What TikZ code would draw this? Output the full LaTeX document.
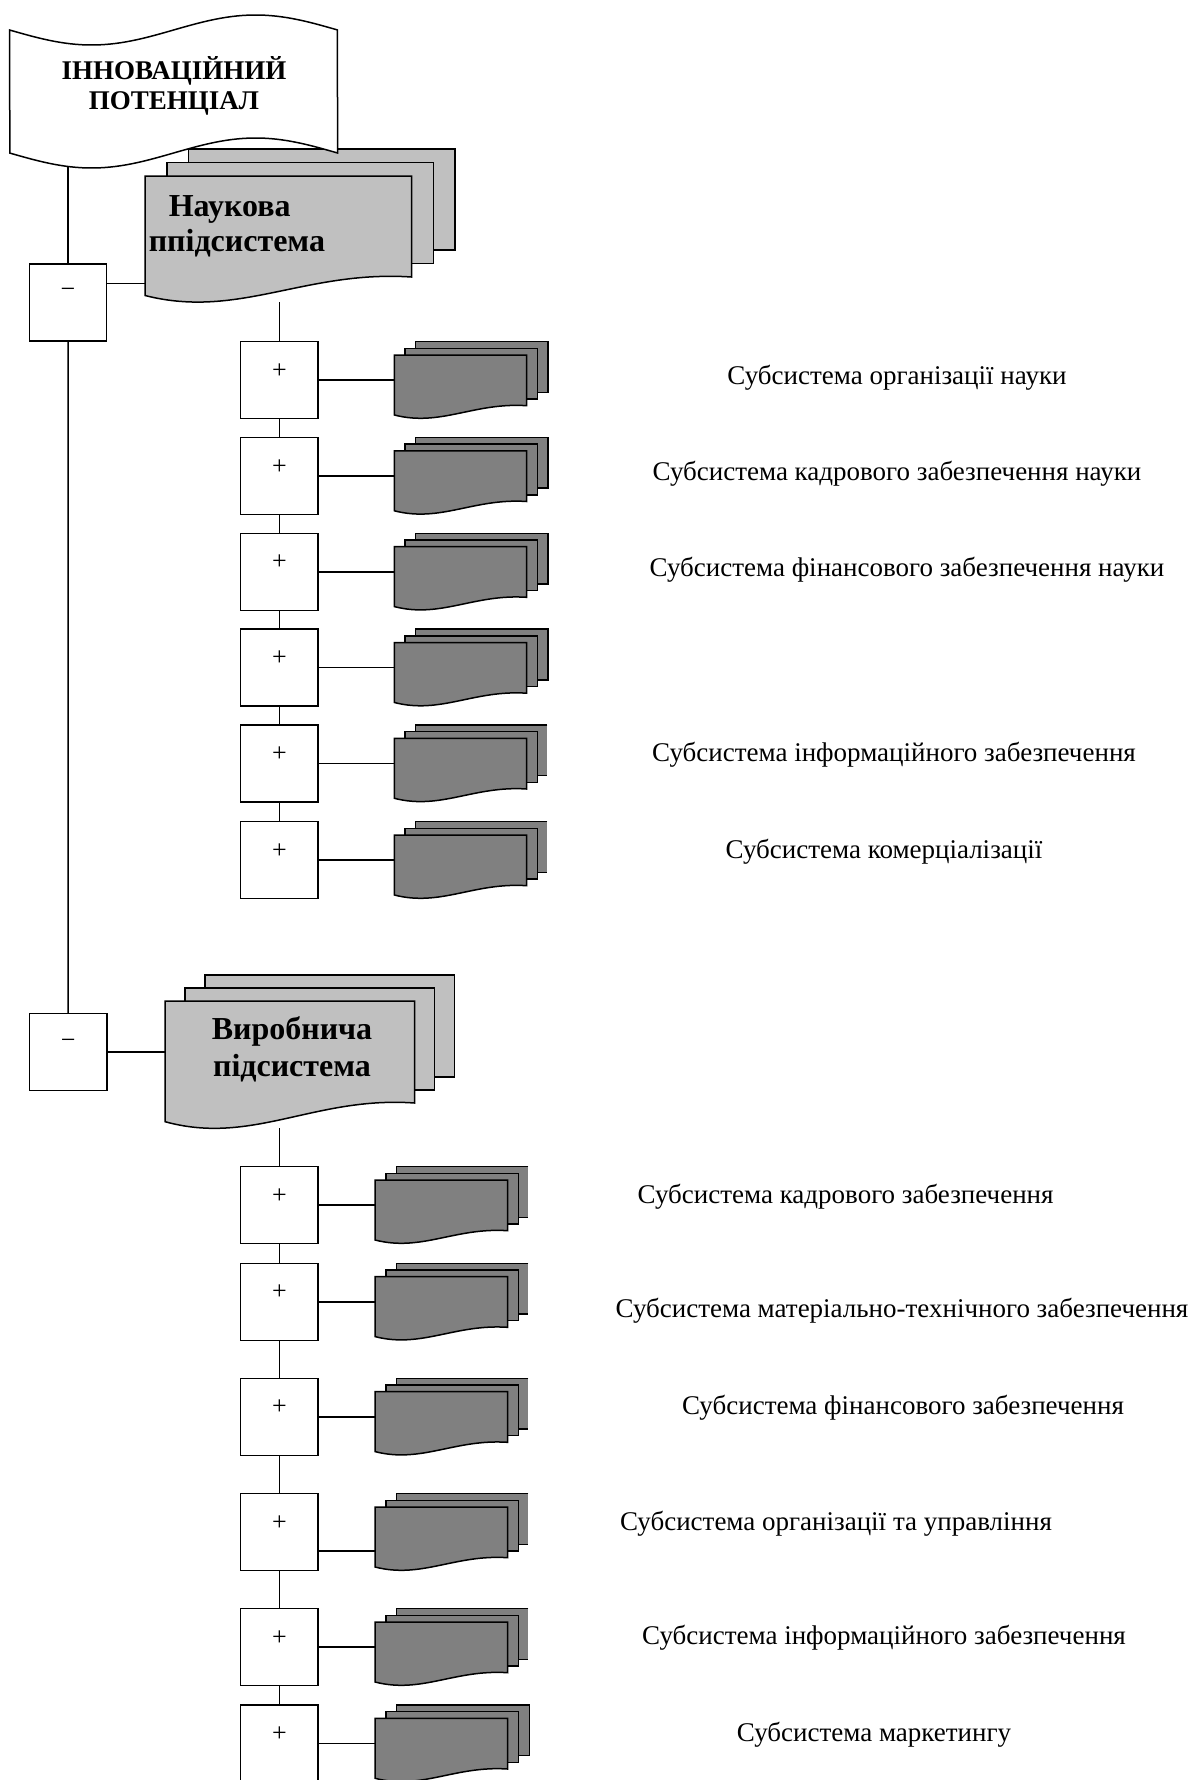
\documentclass[tikz,border=0pt]{standalone}
\usepackage{fontspec}
\setmainfont{Liberation Serif}
\definecolor{lgray}{HTML}{C0C0C0}
\definecolor{dgray}{HTML}{808080}
% L T w h dx dy fill
\newcommand{\dstack}[7]{%
  \filldraw[fill=#7] ({#1+2*#5},{#2-2*#6}) rectangle ({#1+2*#5+#3},{#2-2*#6+#4});
  \filldraw[fill=#7] ({#1+#5},{#2-#6}) rectangle ({#1+#5+#3},{#2-#6+#4});
  \filldraw[fill=#7] (#1,#2) -- ({#1+#3},#2) -- ({#1+#3},{#2+#4}) .. controls ({#1+0.6*#3},{#2+0.93*#4}) and ({#1+0.35*#3},{#2+1.42*#4}) .. (#1,{#2+1.183*#4}) -- cycle;
}
% same, back layer cut at x = #8
\newcommand{\dstackcut}[8]{%
  \filldraw[fill=#7] (#8,{#2-2*#6}) -- ({#1+2*#5},{#2-2*#6}) -- ({#1+2*#5},{#2-2*#6+#4}) -- (#8,{#2-2*#6+#4});
  \filldraw[fill=#7] ({#1+#5},{#2-#6}) rectangle ({#1+#5+#3},{#2-#6+#4});
  \filldraw[fill=#7] (#1,#2) -- ({#1+#3},#2) -- ({#1+#3},{#2+#4}) .. controls ({#1+0.6*#3},{#2+0.93*#4}) and ({#1+0.35*#3},{#2+1.42*#4}) .. (#1,{#2+1.183*#4}) -- cycle;
}
\begin{document}
\begin{tikzpicture}[x=1pt,y=-1pt,line width=1.5pt,
  pbox/.style={draw,fill=white,minimum width=77.3pt,minimum height=77pt,inner sep=0pt,line width=1.5pt},
  sign/.style={font=\fontsize{26}{26}\selectfont,inner sep=0pt},
  lbl/.style={font=\fontsize{27}{27}\selectfont,inner sep=0pt,anchor=base},
  hdr/.style={font=\bfseries\fontsize{32}{37}\selectfont,inner sep=0pt,anchor=base west},
  hdrc/.style={font=\bfseries\fontsize{32}{37}\selectfont,inner sep=0pt,anchor=base},
  ttl/.style={font=\bfseries\fontsize{27}{30}\selectfont,inner sep=0pt,anchor=base}]
\clip (0,0) rectangle (1192,1780);
\fill[white] (0,0) rectangle (1192,1780);

% main column boxes
\node[pbox] (m1) at (68,302.7) {};
\node[sign] (m1s) at (68,293.3) {−};
\node[pbox] (m2) at (68.1,1052.2) {};
\node[sign] (m2s) at (68.1,1043.5) {−};
\coordinate (tb) at (68,166);
\draw (tb) -- (m1);
\draw (m1) -- (m2);
\coordinate (nk) at (145,283.3);
\draw (m1.east |- nk) -- (nk);
\coordinate (vr) at (165,1052.2);
\draw (m2) -- (vr);

% upper + boxes
\foreach \i/\t in {1/341.7,2/437.5,3/533.3,4/629.2,5/725,6/821.7}{
  \node[pbox] (u\i) at (279.35,{\t+38.5}) {};
  \node[sign] (us\i) at (279.35,{\t+29.2}) {+};
  \coordinate (ud\i) at (394.3,{\t+38.5});
  \draw (u\i) -- (ud\i);
}
\coordinate (nkb) at (279.35,302.3);
\draw (nkb) -- (u1);
\draw (u1) -- (u2); \draw (u2) -- (u3); \draw (u3) -- (u4); \draw (u4) -- (u5); \draw (u5) -- (u6);

\dstack{394.3}{355}{132.4}{50.7}{10.7}{6.65}{dgray}
\dstack{394.3}{450.8}{132.4}{50.7}{10.7}{6.65}{dgray}
\dstack{394.3}{546.6}{132.4}{50.7}{10.7}{6.65}{dgray}
\dstack{394.3}{642.5}{132.4}{50.7}{10.7}{6.65}{dgray}
\dstackcut{394.3}{738.3}{132.4}{50.7}{10.7}{6.65}{dgray}{547.3}
\dstackcut{394.3}{835}{132.4}{50.7}{10.7}{6.65}{dgray}{547.3}

% lower + boxes
\foreach \i/\t in {1/1166.7,2/1263.3,3/1378.3,4/1493.7,5/1608.7,6/1705}{
  \node[pbox] (l\i) at (279.35,{\t+38.5}) {};
  \node[sign] (ls\i) at (279.35,{\t+29.2}) {+};
}
\foreach \i/\c in {1/1205.2,2/1301.8,3/1416.8,4/1551,5/1647.2,6/1743.5}{
  \coordinate (ld\i) at (375,\c);
  \draw (l\i.east |- ld\i) -- (ld\i);
}
\coordinate (vrb) at (279.35,1128);
\draw (vrb) -- (l1);
\draw (l1) -- (l2); \draw (l2) -- (l3); \draw (l3) -- (l4); \draw (l4) -- (l5); \draw (l5) -- (l6);

\dstackcut{375}{1180}{132.7}{50.7}{10.8}{6.65}{dgray}{528.3}
\dstackcut{375}{1276.6}{132.7}{50.7}{10.8}{6.65}{dgray}{528.3}
\dstackcut{375}{1391.6}{132.7}{50.7}{10.8}{6.65}{dgray}{528.3}
\dstackcut{375}{1507}{132.7}{50.7}{10.8}{6.65}{dgray}{528.3}
\dstackcut{375}{1622}{132.7}{50.7}{10.8}{6.65}{dgray}{528.3}
\dstack{375}{1718.3}{132.7}{50.7}{10.8}{6.65}{dgray}

% big documents
\dstack{145}{176}{266.5}{101}{21.8}{13.5}{lgray}
\dstack{165}{1001}{249.6}{102}{20}{13}{lgray}

% top tape
\draw[fill=white] plot[domain=0:1,samples=60] ({9.6+328*\x},{30+15*sin(360*\x)})
  -- plot[domain=1:0,samples=60] ({9.6+328*\x},{153+15*sin(360*\x)}) -- cycle;

% texts
\node[ttl] (t1) at (174,79) {ІННОВАЦІЙНИЙ};
\node[ttl] (t2) at (174,109.3) {ПОТЕНЦІАЛ};
\node[hdr] (h1) at (168,216) {Наукова};
\node[hdr] (h2) at (148,251) {ппідсистема};
\node[hdrc] (h3) at (292,1039.3) {Виробнича};
\node[hdrc] (h4) at (292,1076.7) {підсистема};

\node[lbl] (a1) at (897,384) {Субсистема організації науки};
\node[lbl] (a2) at (897,480) {Субсистема кадрового забезпечення науки};
\node[lbl] (a3) at (907,576.5) {Субсистема фінансового забезпечення науки};
\node[lbl] (a5) at (894,761.5) {Субсистема інформаційного забезпечення};
\node[lbl] (a6) at (884,858) {Субсистема комерціалізації};

\node[lbl] (b1) at (845.6,1203) {Субсистема кадрового забезпечення};
\node[lbl] (b2) at (902,1317.7) {Субсистема матеріально-технічного забезпечення};
\node[lbl] (b3) at (903,1414) {Субсистема фінансового забезпечення};
\node[lbl] (b4) at (836,1530) {Субсистема організації та управління};
\node[lbl] (b5) at (884,1644.6) {Субсистема інформаційного забезпечення};
\node[lbl] (b6) at (874,1741) {Субсистема маркетингу};
\end{tikzpicture}
\end{document}
